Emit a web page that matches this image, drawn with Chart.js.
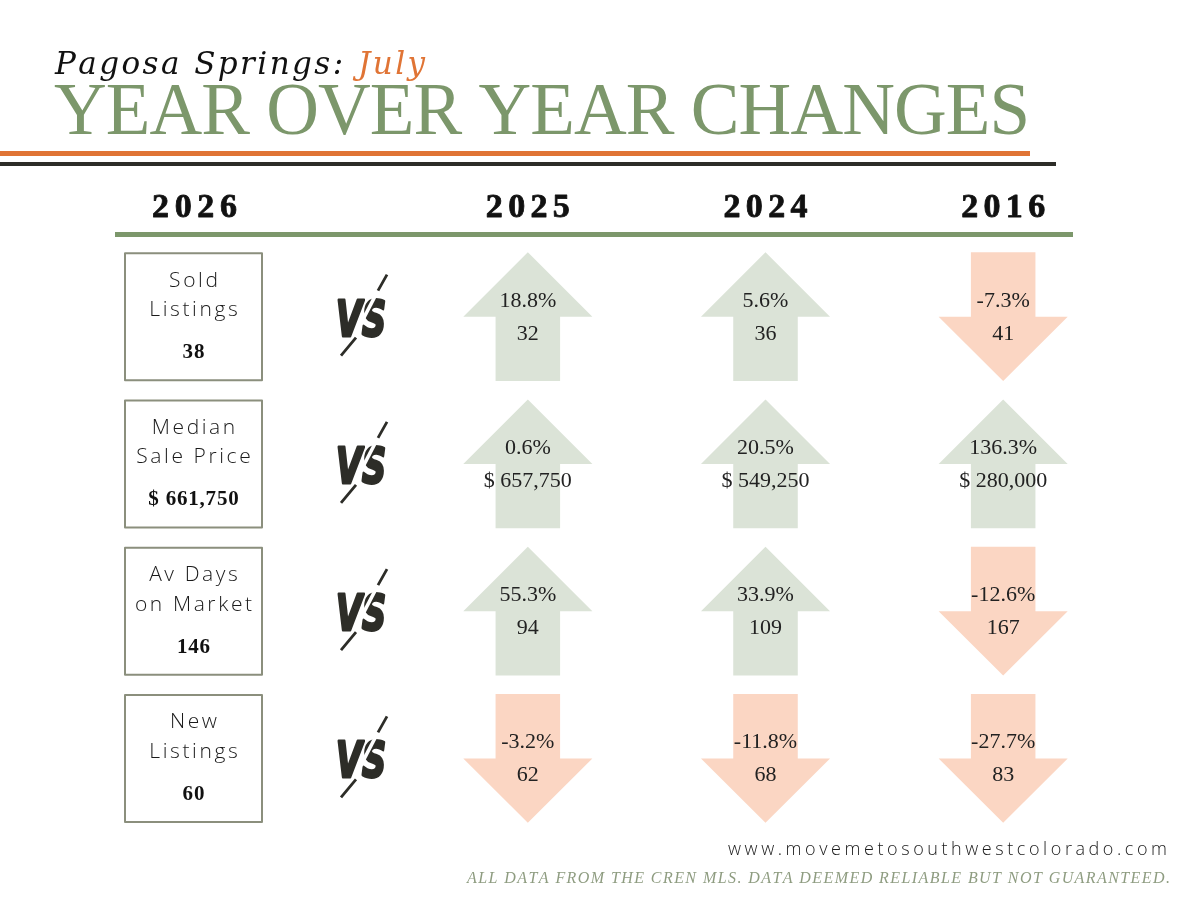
<!DOCTYPE html>
<html>
<head>
<meta charset="utf-8">
<script src="https://cdn.jsdelivr.net/npm/chart.js@4.4.0/dist/chart.umd.min.js"></script>
<style>
  html, body { margin: 0; padding: 0; background: #fff; }
  #wrap { width: 1200px; height: 900px; }
</style>
</head>
<body>
<div id="wrap"><canvas id="grafica" width="1200" height="900"></canvas></div>
<script>
// Data read from the infographic
const rowLabels = [['Sold', 'Listings'], ['Median', 'Sale Price'], ['Av Days', 'on Market'], ['New', 'Listings']];
const moneyRow = [false, true, false, false];

const currentYear = '2026';
const currentValues = [38, 661750, 146, 60];

const compareYears = ['2025', '2024', '2016'];
const values2025 = [32, 657750, 94, 62];
const values2024 = [36, 549250, 109, 68];
const values2016 = [41, 280000, 167, 83];
const change2025 = [18.8, 0.6, 55.3, -3.2];
const change2024 = [5.6, 20.5, 33.9, -11.8];
const change2016 = [-7.3, 136.3, -12.6, -27.7];

const compareValues = [values2025, values2024, values2016];
const compareChanges = [change2025, change2024, change2016];

const colors = {
    green: '#7c976b',
    orange: '#e07435',
    dark: '#2d2d28',
    up: '#dbe3d7',
    down: '#fbd6c3',
    box: '#8b8f7d',
    text: '#222222',
    note: '#8e9c80'
};

function formatValue(v, row) {
    return moneyRow[row] ? '$ ' + v.toLocaleString('en-US') : String(v);
}

// Draws text char by char, spreading it over a given width
function spacedText(ctx, runs, x, y, width, align, outline) {
    const full = runs.map(r => r.text).join('');
    const chars = [...full];
    let natural = 0;
    chars.forEach(ch => natural += ctx.measureText(ch).width);
    const ls = chars.length > 1 ? (width - natural) / (chars.length - 1) : 0;
    let cursor = align === 'center' ? x - width / 2 : align === 'right' ? x - width : x;
    ctx.textAlign = 'left';
    runs.forEach(run => {
        ctx.fillStyle = run.color;
        ctx.strokeStyle = run.color;
        [...run.text].forEach(ch => {
            ctx.fillText(ch, cursor, y);
            if (outline) {
                ctx.lineWidth = outline;
                ctx.strokeText(ch, cursor, y);
            }
            cursor += ctx.measureText(ch).width + ls;
        });
    });
}

// Fixed letter spacing, centered
function trackedText(ctx, text, cx, y, ls) {
    const chars = [...text];
    let w = 0;
    chars.forEach(ch => w += ctx.measureText(ch).width);
    w += ls * (chars.length - 1);
    let cursor = cx - w / 2;
    ctx.textAlign = 'left';
    chars.forEach(ch => {
        ctx.fillText(ch, cursor, y);
        cursor += ctx.measureText(ch).width + ls;
    });
}

function drawArrow(ctx, cx, cy, w, h, up) {
    const hw = w / 2, sw = w / 4, half = h / 2;
    const tipY = up ? cy - half : cy + half;
    const endY = up ? cy + half : cy - half;
    ctx.beginPath();
    ctx.moveTo(cx, tipY);
    ctx.lineTo(cx + hw, cy);
    ctx.lineTo(cx + sw, cy);
    ctx.lineTo(cx + sw, endY);
    ctx.lineTo(cx - sw, endY);
    ctx.lineTo(cx - sw, cy);
    ctx.lineTo(cx - hw, cy);
    ctx.closePath();
    ctx.fillStyle = up ? colors.up : colors.down;
    ctx.fill();
}

function drawVs(ctx, cx, cy) {
    ctx.save();
    ctx.font = 'italic bold 50px "DejaVu Sans"';
    const w = ctx.measureText('VS').width;
    ctx.translate(cx - 1, cy + 19);
    ctx.scale(50 / w, 0.98);
    ctx.fillStyle = colors.dark;
    ctx.strokeStyle = colors.dark;
    ctx.lineWidth = 3;
    ctx.lineJoin = 'round';
    ctx.textAlign = 'center';
    ctx.fillText('VS', 0, 0);
    ctx.strokeText('VS', 0, 0);
    ctx.restore();
    // white cut through the letters, then the two slash ends
    ctx.save();
    ctx.lineCap = 'butt';
    ctx.strokeStyle = '#ffffff';
    ctx.lineWidth = 3.5;
    ctx.beginPath();
    ctx.moveTo(cx + 18, cy - 30);
    ctx.lineTo(cx - 10, cy + 24);
    ctx.stroke();
    ctx.strokeStyle = colors.dark;
    ctx.lineWidth = 2.8;
    ctx.beginPath();
    ctx.moveTo(cx + 25, cy - 42);
    ctx.lineTo(cx + 16, cy - 26);
    ctx.moveTo(cx - 6, cy + 21);
    ctx.lineTo(cx - 21, cy + 39);
    ctx.stroke();
    ctx.restore();
}

const infographic = {
    id: 'infographic',
    beforeDraw(chart) {
        const ctx = chart.ctx;
        ctx.save();
        ctx.fillStyle = '#ffffff';
        ctx.fillRect(0, 0, chart.width, chart.height);
        ctx.restore();
    },
    afterDatasetsDraw(chart) {
        const ctx = chart.ctx;
        const xs = chart.scales.x;
        const ys = chart.scales.y;
        const colW = xs.getPixelForValue(1) - xs.getPixelForValue(0);
        const rowH = ys.getPixelForValue(1) - ys.getPixelForValue(0);
        ctx.save();
        ctx.textBaseline = 'alphabetic';

        // Title
        ctx.font = 'italic 31px "DejaVu Serif"';
        spacedText(ctx, [{ text: 'Pagosa Springs: ', color: '#111111' }, { text: 'July', color: colors.orange }], 55, 74, 370, 'left');
        ctx.font = '73px "Liberation Serif"';
        spacedText(ctx, [{ text: 'YEAR OVER YEAR CHANGES', color: colors.green }], 54, 134, 976, 'left');

        // Rules
        ctx.fillStyle = colors.orange;
        ctx.fillRect(0, 151, 1030, 5);
        ctx.fillStyle = colors.dark;
        ctx.fillRect(0, 162, 1056, 4);
        ctx.fillStyle = colors.green;
        ctx.fillRect(115, 232, 958, 5);

        // Column headers
        ctx.font = 'bold 34px "Liberation Serif"';
        ctx.lineJoin = 'round';
        spacedText(ctx, [{ text: currentYear, color: '#111111' }], 194.5, 217, 85, 'center', 0.8);
        compareYears.forEach((yr, i) => {
            spacedText(ctx, [{ text: yr, color: '#111111' }], xs.getPixelForValue(i), 217, 84, 'center', 0.8);
        });

        // 2026 boxes and VS marks
        rowLabels.forEach((lines, row) => {
            const cy = ys.getPixelForValue(row);
            ctx.strokeStyle = colors.box;
            ctx.lineWidth = 2;
            ctx.strokeRect(125, cy - 63.5, 137, 127);
            ctx.fillStyle = '#1a1a1a';
            ctx.font = '300 21px "Open Sans"';
            trackedText(ctx, lines[0], 193.5, cy - 30, 2.6);
            trackedText(ctx, lines[1], 193.5, cy - 0.5, 2.6);
            ctx.font = 'bold 21px "Liberation Serif"';
            ctx.fillStyle = '#111111';
            trackedText(ctx, formatValue(currentValues[row], row), 193.5, cy + 41.5, 0.8);
            drawVs(ctx, 362, cy);
        });

        // Arrows from the dataset points
        chart.data.datasets.forEach((ds, i) => {
            chart.getDatasetMeta(i).data.forEach((pt, row) => {
                const d = ds.data[row];
                drawArrow(ctx, pt.x, pt.y, colW * 0.543, rowH * 0.875, d.change >= 0);
                ctx.fillStyle = colors.text;
                ctx.font = '22px "Liberation Serif"';
                ctx.textAlign = 'center';
                ctx.fillText(d.change.toFixed(1) + '%', pt.x, pt.y - 10);
                ctx.fillText(formatValue(d.value, row), pt.x, pt.y + 23);
            });
        });

        // Footer
        ctx.font = '300 18px "Open Sans"';
        spacedText(ctx, [{ text: 'www.movemetosouthwestcolorado.com', color: '#1a1a1a' }], 728, 855, 439, 'left');
        ctx.font = 'italic 16px "Liberation Serif"';
        spacedText(ctx, [{ text: 'ALL DATA FROM THE CREN MLS. DATA DEEMED RELIABLE BUT NOT GUARANTEED.', color: colors.note }], 467, 883, 703, 'left');

        ctx.restore();
    }
};

const chart = new Chart(document.getElementById('grafica').getContext('2d'), {
    type: 'scatter',
    data: {
        datasets: compareYears.map((yr, i) => ({
            label: yr,
            data: rowLabels.map((_, row) => ({
                x: i,
                y: row,
                value: compareValues[i][row],
                change: compareChanges[i][row]
            })),
            pointRadius: 0,
            pointHoverRadius: 0
        }))
    },
    options: {
        responsive: false,
        animation: false,
        devicePixelRatio: 1,
        layout: { padding: { left: 409, right: 78, top: 243, bottom: 68 } },
        plugins: { legend: { display: false }, tooltip: { enabled: false } },
        events: [],
        scales: {
            x: { type: 'linear', min: -0.5, max: 2.5, display: false },
            y: { type: 'linear', min: -0.5, max: 3.5, reverse: true, display: false }
        }
    },
    plugins: [infographic]
});
</script>
</body>
</html>
